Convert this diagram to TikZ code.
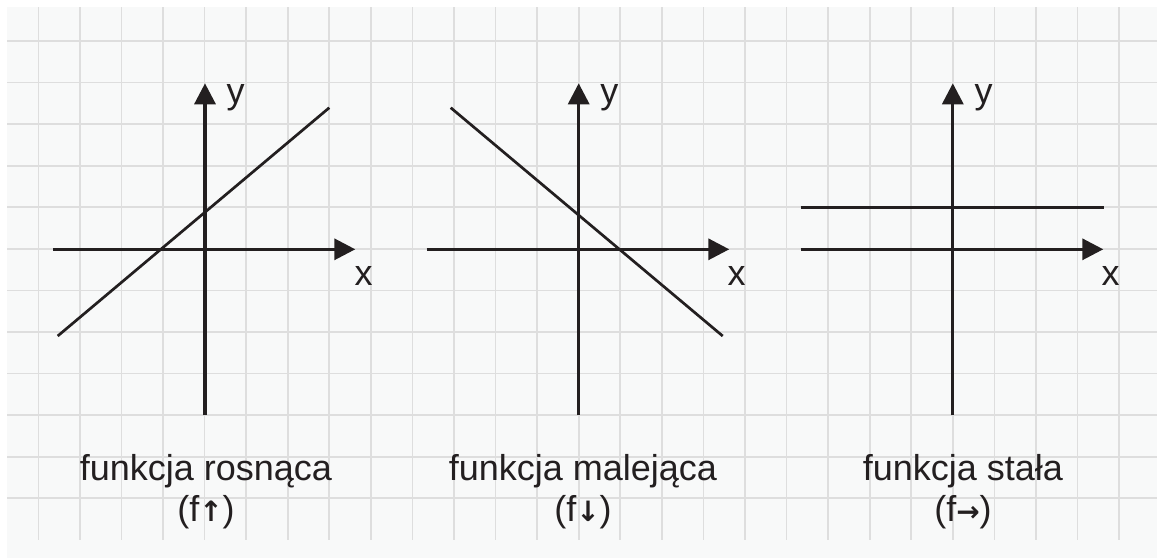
\documentclass[tikz,border=0pt]{standalone}
\usepackage{fontspec}
\setmainfont{Liberation Sans}
\newfontfamily\arrfont{DejaVu Sans}
\usetikzlibrary{arrows.meta}
\definecolor{bg}{HTML}{F8F9F9}
\definecolor{gridc}{HTML}{DEDEDE}
\definecolor{ink}{HTML}{231F20}
\newcommand{\capar}[1]{{\arrfont\bfseries\fontsize{28}{30}\selectfont #1}}
\begin{document}
\begin{tikzpicture}[x=1pt,y=-1pt,
  axis/.style={line width=3.3pt, draw=ink, -{Triangle[length=21pt,width=21pt]}},
  fline/.style={line width=2.7pt, draw=ink},
  gridline/.style={line width=1.6pt, draw=gridc},
  lbl/.style={font=\fontsize{36}{40}\selectfont, text=ink, inner sep=0pt, anchor=base west},
  capt/.style={font=\fontsize{36}{40}\selectfont, text=ink, inner sep=0pt, anchor=base}]
\useasboundingbox (0,0) rectangle (1157,558);
\fill[white] (0,0) rectangle (1157,558);
\fill[bg] (7,7) rectangle (1157,558);
\foreach \k in {0,...,26} \draw[gridline] ({38.3+41.57*\k},7) -- ({38.3+41.57*\k},540);
\foreach \j in {0,...,11} \draw[gridline] (7,{41+41.57*\j}) -- (1157,{41+41.57*\j});
% plot 1
\coordinate (x1s) at (53.3,249.3); \coordinate (x1e) at (355.3,249.3);
\coordinate (y1s) at (205,415); \coordinate (y1e) at (205,83.3);
\coordinate (f1a) at (57.7,336); \coordinate (f1b) at (329.3,107.7);
\draw[fline] (f1a) -- (f1b);
\draw[axis] (x1s) -- (x1e);
\draw[axis] (y1s) -- (y1e);
\node[lbl] (lx1) at (354.5,285) {x};
\node[lbl] (ly1) at (226.5,103.7) {y};
\node[capt] (c1a) at (206,480) {funkcja rosnąca};
\node[capt] (c1b) at (206,521.7) {(f\capar{↑})};
% plot 2
\coordinate (x2s) at (426.7,249.3); \coordinate (x2e) at (729.3,249.3);
\coordinate (y2s) at (578.7,415); \coordinate (y2e) at (578.7,83.3);
\coordinate (f2a) at (450.7,107.7); \coordinate (f2b) at (722.7,336);
\draw[fline] (f2a) -- (f2b);
\draw[axis] (x2s) -- (x2e);
\draw[axis] (y2s) -- (y2e);
\node[lbl] (lx2) at (727.5,285) {x};
\node[lbl] (ly2) at (600.2,103.7) {y};
\node[capt] (c2a) at (583,480) {funkcja malejąca};
\node[capt] (c2b) at (583,521.7) {(f\capar{↓})};
% plot 3
\coordinate (x3s) at (800.7,249.3); \coordinate (x3e) at (1103.3,249.3);
\coordinate (y3s) at (952.8,415); \coordinate (y3e) at (952.8,83.3);
\coordinate (f3a) at (800.7,207.3); \coordinate (f3b) at (1104,207.3);
\draw[fline] (f3a) -- (f3b);
\draw[axis] (x3s) -- (x3e);
\draw[axis] (y3s) -- (y3e);
\node[lbl] (lx3) at (1101.5,285) {x};
\node[lbl] (ly3) at (974.3,103.7) {y};
\node[capt] (c3a) at (963,480) {funkcja stała};
\node[capt] (c3b) at (963,521.7) {(f\capar{→})};
\end{tikzpicture}
\end{document}
